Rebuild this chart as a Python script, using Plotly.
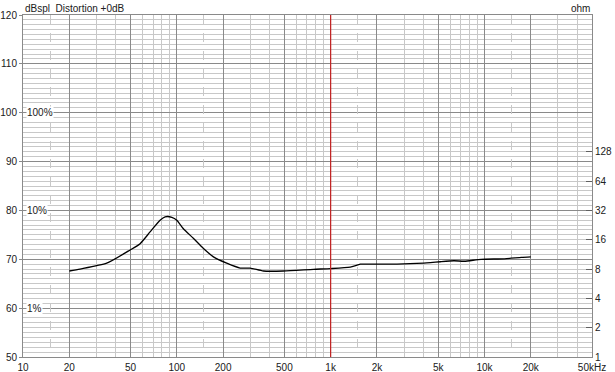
import plotly.graph_objects as go
import math

# ---- data ----
freq_hz = [20, 23.5, 35, 49.7, 57.7, 67, 77.8, 83.9, 92.8, 100, 110, 128, 149, 173, 211, 258,
           300, 366, 494, 774, 1000, 1340, 1559, 1700, 2700, 4027, 4450, 5170, 6330, 7400,
           9500, 13500, 17400, 20000]
spl_db = [67.6, 68.0, 69.2, 71.9, 73.2, 75.6, 78.0, 78.7, 78.6, 78.0, 76.3, 74.3, 72.2, 70.5, 69.2, 68.2,
          68.2, 67.6, 67.6, 67.95, 68.1, 68.4, 69.0, 69.0, 69.0, 69.2, 69.3, 69.5, 69.7, 69.6,
          70.0, 70.1, 70.4, 70.5]

x_major_vals = [10, 20, 50, 100, 200, 500, 1000, 2000, 5000, 10000, 20000, 50000]
x_major_text = ["10", "20", "50", "100", "200", "500", "1k", "2k", "5k", "10k", "20k", "50kHz"]
x_minor_vals = [m * d for d in [10, 100, 1000, 10000] for m in [3, 4, 6, 7, 8, 9]]
x_dash_vals = [15, 150, 1500, 15000]
y_major_vals = [50, 60, 70, 80, 90, 100, 110, 120]
y_minor_vals = list(range(50, 121))
ohm_vals = [1, 2, 4, 8, 16, 32, 64, 128]
pct_labels = [("100%", 100), ("10%", 80), ("1%", 60)]
marker_freq = 1000

FONT = "Liberation Sans, Arial, sans-serif"
FS = 10
TXT = "#202020"
MAJ = "#8a8a8a"
MIN = "#c8c8c8"

fig = go.Figure()
fig.add_trace(go.Scatter(x=freq_hz, y=spl_db, mode="lines",
                         line=dict(color="black", width=1.3, shape="spline", smoothing=0.6),
                         showlegend=False, hoverinfo="skip"))
# helper invisible traces so overlay axes render
fig.add_trace(go.Scatter(x=[100], y=[10], xaxis="x", yaxis="y2", mode="markers",
                         marker=dict(opacity=0), showlegend=False, hoverinfo="skip"))
fig.add_trace(go.Scatter(x=[100], y=[80], xaxis="x2", yaxis="y", mode="markers",
                         marker=dict(opacity=0), showlegend=False, hoverinfo="skip"))

xr = [math.log10(10), math.log10(50000)]
top_doublings = 11.66
fig.update_layout(
    width=615, height=372,
    margin=dict(l=23, r=23, t=15, b=15),
    paper_bgcolor="white", plot_bgcolor="white",
    font=dict(family=FONT, size=FS, color=TXT),
    xaxis=dict(type="log", range=xr, tickvals=x_major_vals, ticktext=x_major_text,
               showgrid=True, gridcolor=MAJ, gridwidth=1, automargin=False,
               minor=dict(tickvals=x_minor_vals, showgrid=True, gridcolor=MIN, gridwidth=1, ticks=""),
               showline=True, linecolor=MAJ, mirror=True, ticks="", zeroline=False,
               tickfont=dict(size=FS), ticklabelstandoff=1),
    xaxis2=dict(type="log", range=xr, overlaying="x", tickvals=x_dash_vals, showticklabels=False,
                showgrid=True, gridcolor=MIN, griddash="dash", gridwidth=1, ticks="",
                showline=False, zeroline=False, automargin=False),
    yaxis=dict(range=[50, 120], tickvals=y_major_vals, showgrid=True, gridcolor=MAJ, gridwidth=1,
               minor=dict(tickvals=y_minor_vals, showgrid=True, gridcolor=MIN, gridwidth=1, ticks=""),
               showline=True, linecolor=MAJ, mirror=True, ticks="outside", ticklen=3,
               tickcolor=MAJ, zeroline=False, ticklabelstandoff=0, automargin=False,
               tickfont=dict(size=FS)),
    yaxis2=dict(type="log", overlaying="y", side="right",
                range=[0, top_doublings * math.log10(2)],
                tickvals=ohm_vals, ticktext=[str(v) for v in ohm_vals],
                showgrid=False, ticks="inside", ticklen=6, tickcolor="#606060",
                showline=False, zeroline=False, ticklabelstandoff=2, automargin=False,
                tickfont=dict(size=FS)),
)

fig.add_shape(type="line", xref="x", yref="paper", x0=marker_freq, x1=marker_freq, y0=0, y1=1,
              line=dict(color="#c42020", width=1.2))

for txt, yv in pct_labels:
    fig.add_annotation(x=0.006, xref="paper", y=yv, yref="y", text=txt, showarrow=False,
                       xanchor="left", yanchor="middle", bgcolor="white",
                       font=dict(size=FS, family=FONT, color=TXT), borderpad=0)

fig.add_annotation(x=0, xref="paper", y=1, yref="paper", text="dBspl  Distortion +0dB",
                   showarrow=False, xanchor="left", yanchor="bottom", yshift=-1,
                   font=dict(size=FS, family=FONT, color=TXT))
fig.add_annotation(x=1, xref="paper", y=1, yref="paper", text="ohm",
                   showarrow=False, xanchor="right", yanchor="bottom", yshift=-1,
                   font=dict(size=FS, family=FONT, color=TXT))

fig.write_html("out.html")
